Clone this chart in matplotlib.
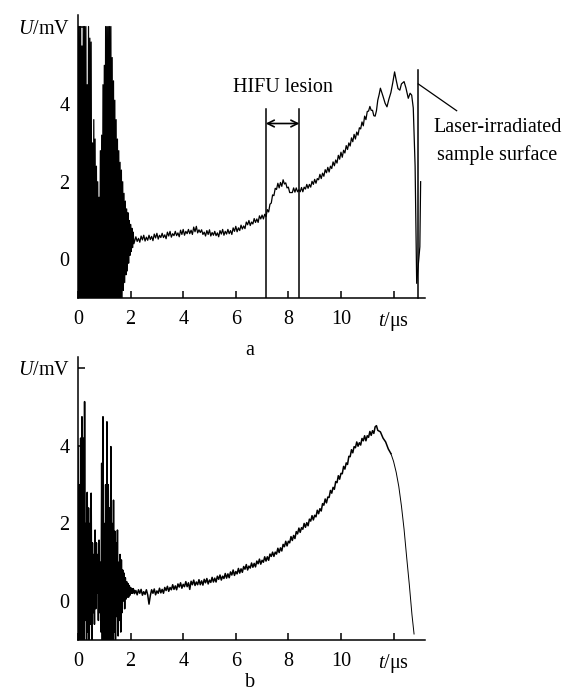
import numpy as np
import matplotlib
matplotlib.use("Agg")
import matplotlib.pyplot as plt

plt.rcParams['font.family'] = ['Liberation Serif', 'DejaVu Serif']
plt.rcParams['mathtext.fontset'] = 'custom'
plt.rcParams['mathtext.rm'] = 'Liberation Serif'
plt.rcParams['mathtext.it'] = 'Liberation Serif:italic'

# ---------------- data ----------------
# oscillating start of the signal: upper swing at t, lower swing at t + 0.025 us
osc_t = np.arange(0, 2.101, 0.05)
osc_a_upper = [6.0, 6.0, 6.0, 5.5, 6.0, 6.0, 6.0, 4.5, 6.0, 5.7,
               5.6, 3.0, 3.6, 3.1, 2.4, 2.0, 1.6, 2.8, 3.2, 4.5,
               5.0, 6.0, 6.0, 6.0, 6.0, 6.0, 5.2, 4.6, 4.1, 3.6,
               3.1, 2.8, 2.5, 2.3, 2.0, 1.7, 1.5, 1.3, 1.2, 1.0,
               0.9, 0.8, 0.7]
osc_a_lower = [-1.5, -1.5, -1.5, -1.5, -1.5, -1.5, -1.5, -1.5, -1.5, -1.5,
               -1.5, -1.5, -1.3, -1.5, -1.2, -1.5, -1.1, -1.5, -1.5, -1.5,
               -1.5, -1.5, -1.5, -1.5, -1.5, -1.5, -1.5, -1.5, -1.4, -1.5,
               -1.3, -1.2, -1.1, -1.0, -0.8, -0.6, -0.4, -0.3, -0.1, 0.1,
               0.2, 0.3, 0.4]
osc_b_upper = [4.0, 3.0, 4.2, 4.75, 4.2, 5.14, 2.0, 2.8, 2.4, 2.0,
               2.78, 1.5, 1.2, 1.83, 1.5, 1.2, 1.57, 1.0, 3.55, 4.75,
               2.0, 3.0, 4.62, 3.0, 2.4, 3.98, 2.0, 2.6, 1.8, 1.5,
               1.83, 1.0, 1.2, 1.06, 0.8, 0.72, 0.6, 0.5, 0.45, 0.4,
               0.35, 0.32, 0.3]
osc_b_lower = [-1.5, -1.5, -1.5, -1.0, -1.5, -0.5, -1.5, -0.8, -1.5, -0.6,
               -1.0, -0.3, -0.6, -0.2, 0.2, -0.5, -0.3, -0.8, -1.5, -1.5,
               -1.5, -1.5, -1.5, -1.5, -1.5, -1.2, -1.5, -0.8, -1.0, -0.4,
               -0.9, -0.5, -0.8, -0.3, 0.0, -0.2, 0.05, 0.1, 0.1, 0.15,
               0.2, 0.2, 0.22]

# slowly varying (noisy) part, one sample every 0.05 us
slow_a_start = 2.2
slow_a = [0.58, 0.46, 0.54, 0.44, 0.60, 0.50, 0.62, 0.47, 0.57, 0.49,
          0.62, 0.51, 0.59, 0.48, 0.65, 0.55, 0.67, 0.52, 0.62, 0.56,
          0.67, 0.56, 0.63, 0.53, 0.70, 0.60, 0.72, 0.57, 0.66, 0.61,
          0.72, 0.61, 0.68, 0.58, 0.75, 0.64, 0.77, 0.62, 0.72, 0.66,
          0.77, 0.66, 0.75, 0.64, 0.83, 0.71, 0.85, 0.68, 0.76, 0.69,
          0.76, 0.64, 0.70, 0.60, 0.74, 0.64, 0.76, 0.60, 0.69, 0.62,
          0.72, 0.61, 0.68, 0.58, 0.74, 0.65, 0.77, 0.62, 0.72, 0.65,
          0.77, 0.66, 0.74, 0.64, 0.81, 0.72, 0.85, 0.71, 0.81, 0.74,
          0.88, 0.78, 0.86, 0.79, 0.96, 0.89, 1.00, 0.87, 0.96, 0.91,
          1.05, 0.95, 1.04, 0.95, 1.12, 1.04, 1.14, 1.04, 1.16, 1.10,
          1.28, 1.22, 1.42, 1.45, 1.66, 1.64, 1.83, 1.80, 1.96, 1.84,
          1.98, 1.88, 2.05, 1.94, 1.97, 1.84, 1.86, 1.72, 1.72, 1.72,
          1.84, 1.73, 1.84, 1.74, 1.79, 1.74, 1.85, 1.74, 1.86, 1.81,
          1.93, 1.83, 1.93, 1.86, 2.01, 1.93, 2.06, 1.96, 2.08, 2.05,
          2.19, 2.08, 2.22, 2.14, 2.31, 2.23, 2.37, 2.25, 2.40, 2.34,
          2.51, 2.41, 2.56, 2.48, 2.68, 2.58, 2.76, 2.63, 2.81, 2.74,
          2.93, 2.83, 3.00, 2.92, 3.13, 3.03, 3.22, 3.10, 3.28, 3.20,
          3.39, 3.36, 3.54, 3.44, 3.69, 3.60, 3.81, 3.82, 3.94, 3.84,
          3.84, 3.70, 3.69, 3.83, 4.10, 4.24]
peak_a_t = [11.5, 11.6, 11.68, 11.75, 11.82, 11.9, 11.97, 12.04, 12.1,
            12.17, 12.24, 12.3, 12.4, 12.47, 12.56, 12.63, 12.69, 12.75,
            12.82, 12.88, 13.0, 13.03]
peak_a = [4.41, 4.20, 4.02, 3.93, 4.12, 4.30, 4.55, 4.83, 4.62,
          4.40, 4.36, 4.52, 4.58, 4.42, 4.15, 4.28, 4.23, 3.90,
          2.40, -0.62, 0.32, 2.0]

slow_b_start = 2.1
slow_b = [0.32, 0.19, 0.27, 0.16, 0.29, 0.20, 0.30, 0.15, 0.24, 0.17,
          0.29, 0.16, -0.08, 0.14, 0.29, 0.20, 0.31, 0.16, 0.26, 0.20,
          0.33, 0.21, 0.30, 0.20, 0.35, 0.27, 0.38, 0.25, 0.35, 0.29,
          0.42, 0.30, 0.39, 0.29, 0.44, 0.36, 0.47, 0.33, 0.43, 0.37,
          0.50, 0.37, 0.47, 0.30, 0.51, 0.42, 0.54, 0.40, 0.49, 0.42,
          0.55, 0.42, 0.52, 0.41, 0.56, 0.47, 0.58, 0.44, 0.54, 0.48,
          0.61, 0.49, 0.59, 0.49, 0.64, 0.56, 0.67, 0.54, 0.64, 0.58,
          0.71, 0.59, 0.70, 0.60, 0.75, 0.67, 0.80, 0.66, 0.76, 0.70,
          0.84, 0.72, 0.83, 0.74, 0.89, 0.82, 0.94, 0.80, 0.90, 0.85,
          0.98, 0.87, 0.97, 0.88, 1.03, 0.96, 1.08, 0.95, 1.05, 1.00,
          1.14, 1.03, 1.14, 1.05, 1.21, 1.15, 1.26, 1.15, 1.26, 1.21,
          1.36, 1.25, 1.37, 1.29, 1.46, 1.40, 1.54, 1.42, 1.54, 1.50,
          1.66, 1.56, 1.69, 1.61, 1.79, 1.73, 1.88, 1.77, 1.89, 1.85,
          2.00, 1.90, 2.02, 1.94, 2.11, 2.06, 2.20, 2.09, 2.21, 2.17,
          2.34, 2.25, 2.38, 2.32, 2.51, 2.47, 2.63, 2.53, 2.68, 2.67,
          2.85, 2.78, 2.93, 2.88, 3.08, 3.05, 3.23, 3.14, 3.29, 3.28,
          3.47, 3.40, 3.56, 3.52, 3.73, 3.72, 3.90, 3.82, 3.98, 3.95,
          4.10, 3.99, 4.08, 4.02, 4.19, 4.13, 4.26, 4.13, 4.26, 4.22,
          4.37, 4.27, 4.39, 4.32, 4.49]
peak_b_t = [11.35, 11.4, 11.5, 11.6, 11.7, 11.8, 11.9]
peak_b = [4.52, 4.40, 4.36, 4.20, 4.10, 3.92, 3.80]
fall_b_t = [11.9, 12.0, 12.1, 12.2, 12.3, 12.4, 12.5, 12.6, 12.7, 12.78]
fall_b = [3.80, 3.60, 3.32, 2.95, 2.45, 1.85, 1.12, 0.42, -0.35, -0.85]

lesion_edges = [7.14, 8.42]
surface_t = 12.92

x_ticks = [0, 2, 4, 6, 8, 10, 12]
x_labels = ['0', '2', '4', '6', '8', '10', '$t$/μs']
y_ticks = [0, 2, 4, 6]
y_labels = ['0', '2', '4', '$U$/mV']


def build_trace(up, lo, slow_start, slow, pk_t, pk):
    t_osc = np.empty(2 * len(osc_t))
    u_osc = np.empty(2 * len(osc_t))
    t_osc[0::2], t_osc[1::2] = osc_t, osc_t + 0.025
    u_osc[0::2], u_osc[1::2] = up, lo
    t_slow = slow_start + 0.05 * np.arange(len(slow))
    t = np.concatenate([t_osc, t_slow, pk_t])
    u = np.concatenate([u_osc, slow, pk])
    return t, u


def style_axes(ax):
    ax.set_xlim(0, 13.2)
    ax.set_ylim(-1.0, 6.3)
    for s in ['top', 'right']:
        ax.spines[s].set_visible(False)
    for s in ['left', 'bottom']:
        ax.spines[s].set_linewidth(1.1)
    ax.set_xticks(x_ticks)
    ax.set_xticklabels(x_labels)
    ax.set_yticks(y_ticks)
    ax.set_yticklabels(y_labels)
    ax.tick_params(direction='in', length=5, width=1.1, labelsize=14.5)
    ax.tick_params('x', pad=8.5)
    ax.tick_params('y', pad=6)
    # ticks at 0 and 2 show up white over the dense oscillations
    for tk in ax.yaxis.get_major_ticks()[:2]:
        tk.tick1line.set_color('white')


fig = plt.figure(figsize=(5.69, 6.95), dpi=100)
ax_a = fig.add_axes([0.1371, 0.5711, 0.610, 0.4075])
ax_b = fig.add_axes([0.1371, 0.0794, 0.610, 0.4075])

# panel a
ta, ua = build_trace(osc_a_upper, osc_a_lower, slow_a_start, slow_a,
                     peak_a_t, peak_a)
ax_a.plot(ta, ua, color='black', lw=0.9)
style_axes(ax_a)

for x in lesion_edges:
    ax_a.plot([x, x], [-1.0, 3.87], color='black', lw=1.1)
ax_a.annotate('', xy=(lesion_edges[0], 3.5), xytext=(lesion_edges[1], 3.5),
              arrowprops=dict(arrowstyle='<->', lw=1.2, color='black',
                              shrinkA=0, shrinkB=0, mutation_scale=12))
ax_a.text(7.78, 4.32, 'HIFU lesion', ha='center', va='baseline',
          fontsize=14.5)

ax_a.plot([surface_t, surface_t], [-1.0, 4.88], color='black', lw=1.1,
          clip_on=False)
ax_a.plot([12.94, 14.40], [4.52, 3.83], color='black', lw=0.9,
          clip_on=False)
ax_a.text(15.95, 3.29, 'Laser-irradiated', ha='center', va='baseline',
          fontsize=14.5, clip_on=False)
ax_a.text(15.95, 2.56, 'sample surface', ha='center', va='baseline',
          fontsize=14.5, clip_on=False)

# panel b
tb, ub = build_trace(osc_b_upper, osc_b_lower, slow_b_start, slow_b,
                     peak_b_t, peak_b)
ax_b.plot(tb, ub, color='black', lw=1.1)
ax_b.plot(fall_b_t, fall_b, color='black', lw=0.7)
style_axes(ax_b)

fig.text(0.4394, 0.489, 'a', ha='center', va='baseline', fontsize=14.5)
fig.text(0.4394, 0.012, 'b', ha='center', va='baseline', fontsize=14.5)

fig.savefig('out.png', dpi=100)
